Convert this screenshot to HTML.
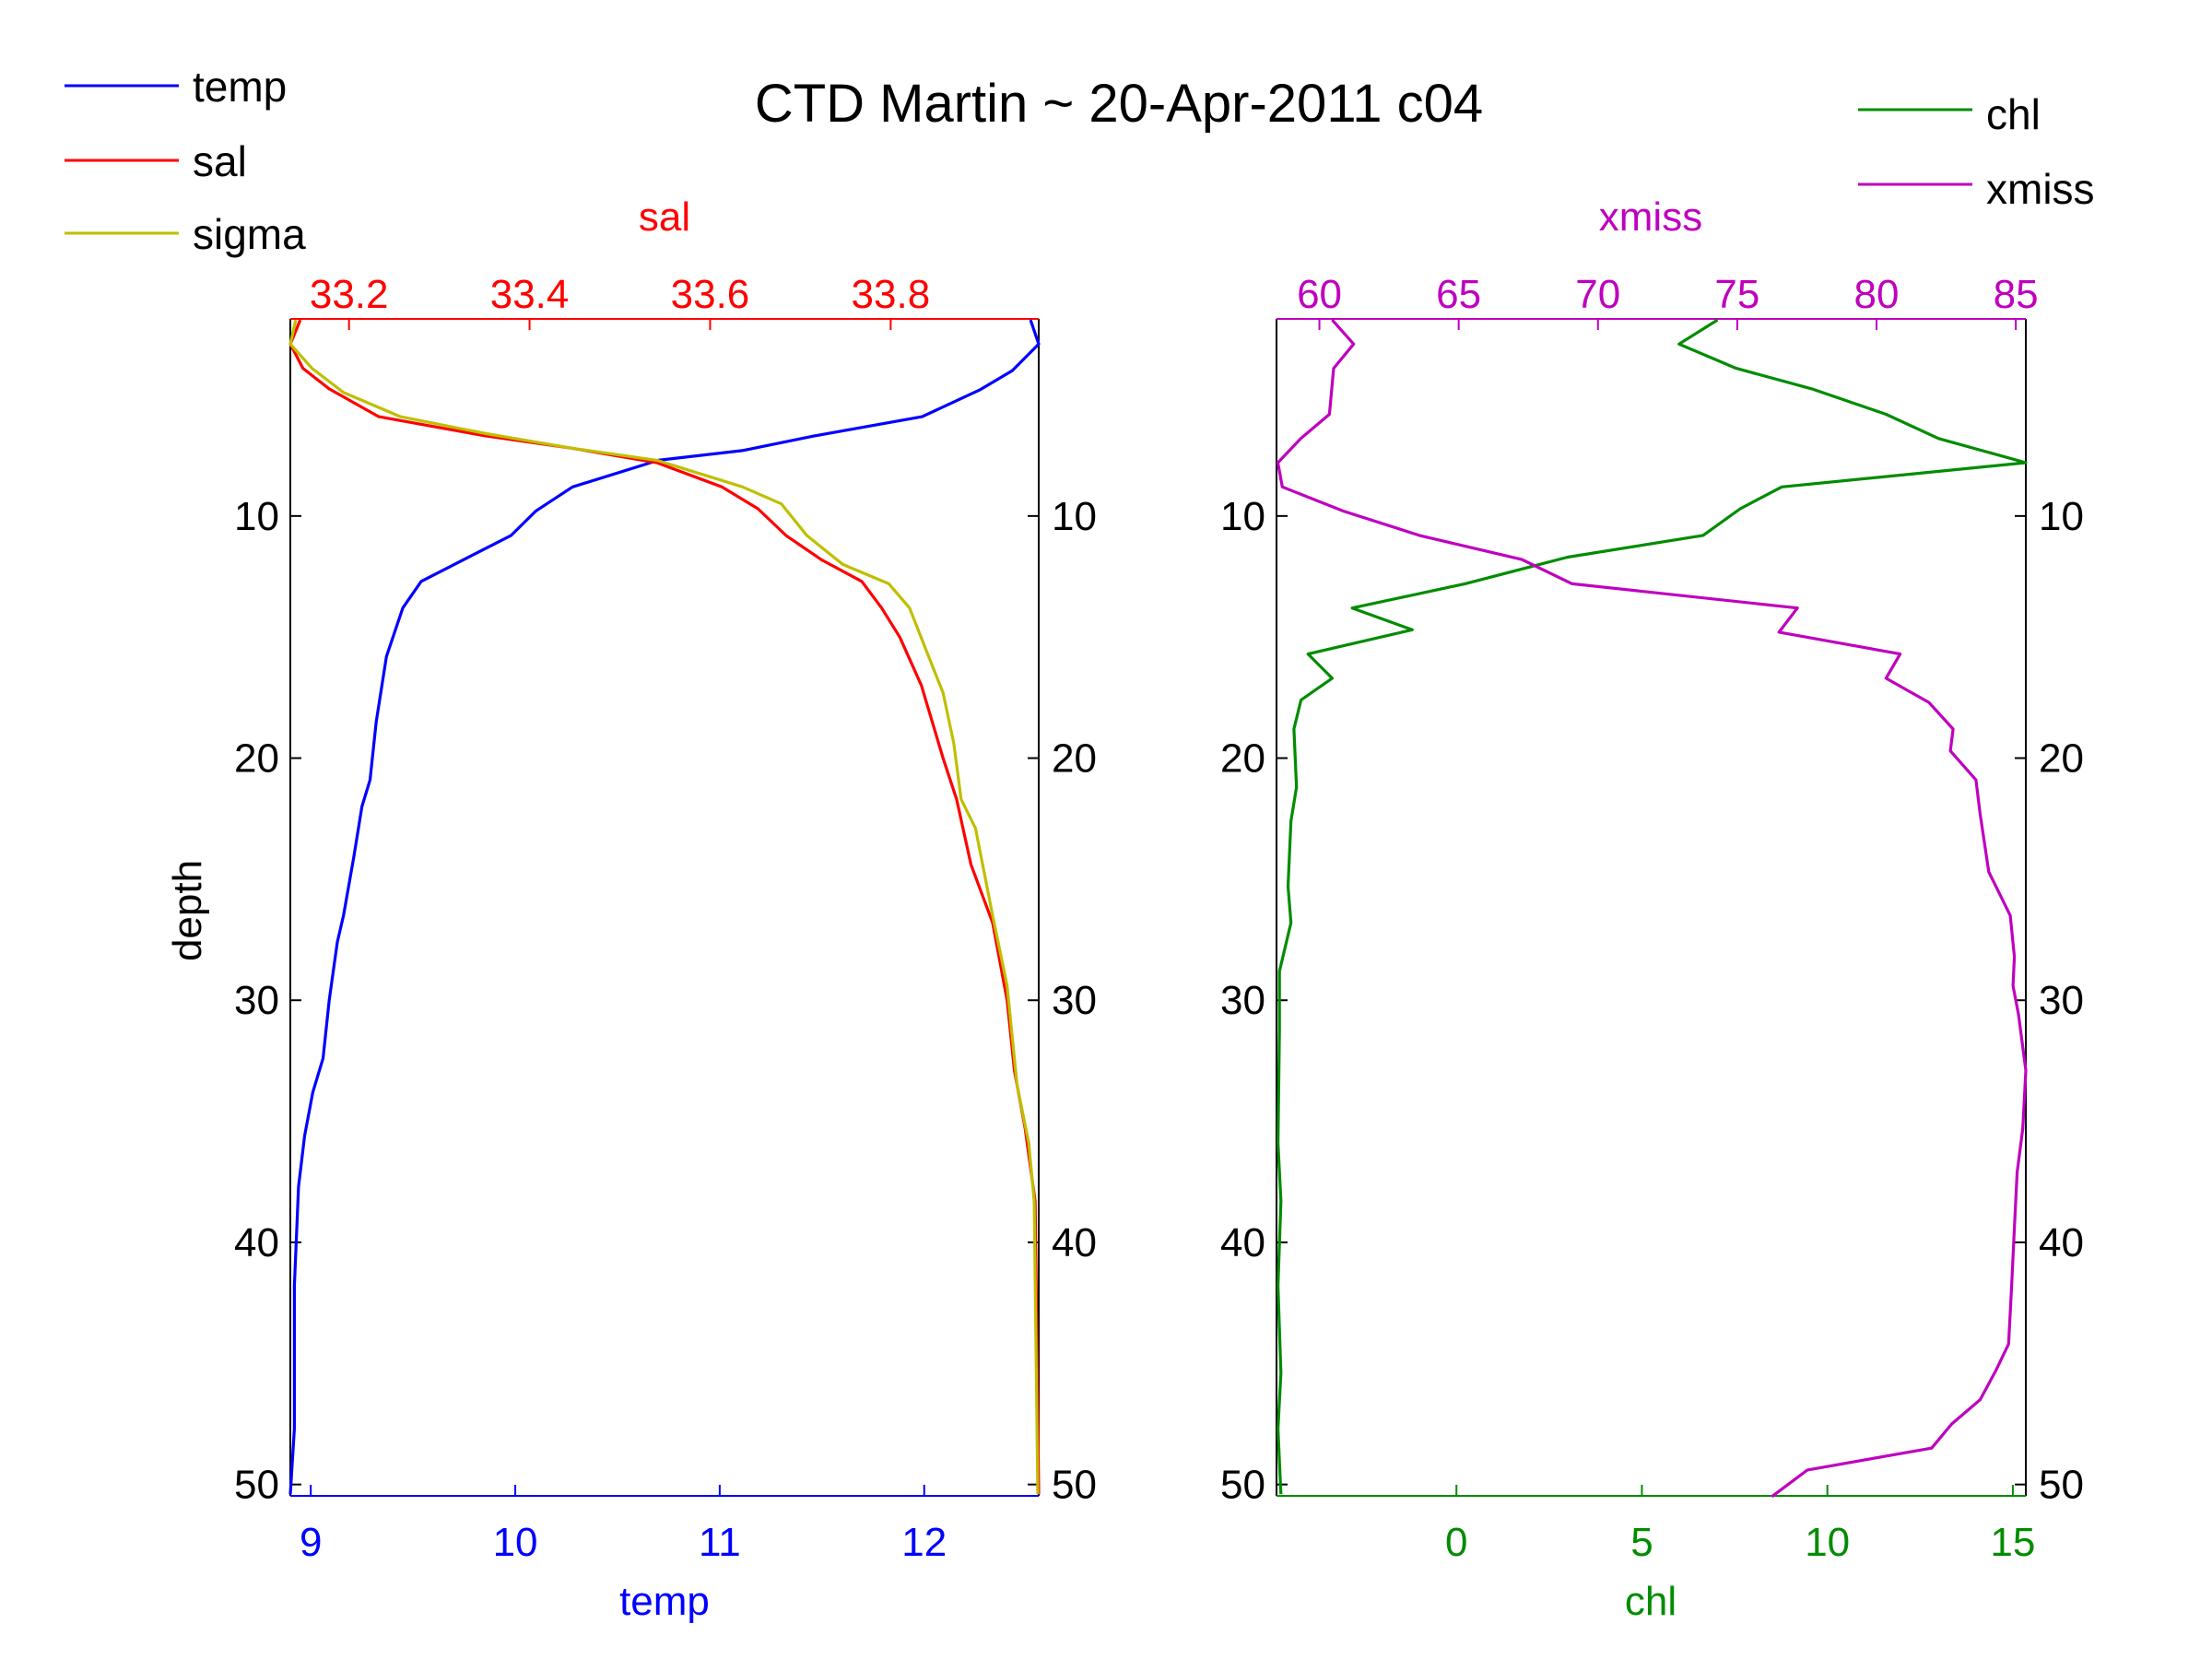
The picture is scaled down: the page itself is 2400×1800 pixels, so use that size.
<!DOCTYPE html>
<html><head><meta charset="utf-8"><style>
html,body{margin:0;padding:0;background:#fff;}
svg{display:block;font-family:"Liberation Sans",sans-serif;}
</style></head><body>
<svg id="chart" width="2400" height="1800" viewBox="0 0 2400 1800" xmlns="http://www.w3.org/2000/svg">
<rect width="2400" height="1800" fill="#fff"/>
<text x="1214" y="132" font-size="58" text-anchor="middle" fill="#000">CTD Martin ~ 20-Apr-2011 c04</text>
<g>
<line x1="70" y1="93" x2="194" y2="93" stroke="#0000ff" stroke-width="3"/>
<text x="209" y="110" font-size="46">temp</text>
<line x1="70" y1="174" x2="194" y2="174" stroke="#ff0000" stroke-width="3"/>
<text x="209" y="191" font-size="46">sal</text>
<line x1="70" y1="253" x2="194" y2="253" stroke="#bfbf00" stroke-width="3"/>
<text x="209" y="270" font-size="46">sigma</text>
</g>
<g>
<line x1="2016" y1="119" x2="2140" y2="119" stroke="#008c00" stroke-width="3"/>
<text x="2155" y="140" font-size="46">chl</text>
<line x1="2016" y1="200" x2="2140" y2="200" stroke="#bf00bf" stroke-width="3"/>
<text x="2155" y="221" font-size="46">xmiss</text>
</g>
<g id="plots"></g>
</svg>
<script>
// ---- data ----
const tempDepth = [1.9,2.9,4.0,4.8,5.9,6.7,7.3,7.7,8.8,9.8,10.8,12.7,13.8,15.8,18.5,20.9,22,24.1,26.5,27.6,30,32.4,33.8,35.6,37.7,41.8,47.7,50.4];
const tempVals = [12.52,12.56,12.43,12.27,11.99,11.46,11.11,10.70,10.28,10.10,9.98,9.54,9.45,9.37,9.32,9.29,9.25,9.21,9.16,9.13,9.09,9.06,9.01,8.97,8.94,8.92,8.92,8.90];
const salDepth = [1.9,2.9,3.9,4.75,5.9,6.7,7.2,7.8,8.8,9.7,10.8,11.8,12.7,13.8,15,17,20,21.7,24.4,26.8,30,32.9,35.3,38.3,50.4];
const salVals = [33.146,33.135,33.149,33.178,33.233,33.352,33.447,33.541,33.613,33.653,33.684,33.723,33.768,33.790,33.810,33.834,33.858,33.873,33.889,33.913,33.929,33.937,33.949,33.960,33.964];
const sigmaDepth = [1.9,2.9,3.9,4.9,5.9,6.6,7.2,7.7,8.8,9.5,10.8,12,12.8,13.8,15.8,17.3,19.4,21.7,22.9,26.5,29.4,33.5,35.9,38.3,50.4];
const sigmaVals = [33.141,33.135,33.159,33.194,33.257,33.352,33.447,33.541,33.636,33.679,33.707,33.747,33.798,33.821,33.842,33.858,33.870,33.878,33.894,33.913,33.929,33.940,33.953,33.959,33.963];
const chlDepth = [1.9,2.9,3.9,4.75,5.8,6.8,7.8,8.8,9.7,10.8,11.7,12.8,13.8,14.7,15.7,16.7,17.6,18.8,21.2,22.6,25.3,26.8,28.8,31.2,35.9,38.3,41.8,45.4,47.7,50.4];
const chlVals = [7.04,6.0,7.54,9.58,11.58,13.0,15.35,8.77,7.65,6.65,3.0,0.23,-2.81,-1.19,-4.0,-3.35,-4.19,-4.38,-4.31,-4.46,-4.54,-4.46,-4.77,-4.77,-4.81,-4.73,-4.81,-4.73,-4.81,-4.73];
const xmissDepth = [1.9,2.9,3.9,5.8,6.8,7.8,8.8,9.8,10.8,11.8,12.8,13.8,14.8,15.7,16.7,17.7,18.8,19.7,20.9,22.3,24.7,26.5,28.2,29.4,30.6,32.9,35.3,37.1,39.4,41.8,44.2,45.3,46.5,47.5,48.5,49.4,50.5];
const xmissVals = [60.46,61.23,60.51,60.36,59.33,58.51,58.67,60.87,63.59,67.27,69.07,77.16,76.5,80.85,80.34,81.88,82.75,82.65,83.57,83.72,84.03,84.8,84.95,84.9,85.1,85.36,85.25,85.05,84.95,84.85,84.74,84.28,83.72,82.7,81.98,77.52,76.24];
const depthTicks = [10,20,30,40,50];
const tempTicks = [9,10,11,12];
const salTicks = [33.2,33.4,33.6,33.8];
const salTickLabels = ["33.2","33.4","33.6","33.8"];
const chlTicks = [0,5,10,15];
const xmissTicks = [60,65,70,75,80,85];

// ---- layout ----
const NS = "http://www.w3.org/2000/svg";
const root = document.getElementById('plots');
const yTop = 346, yBot = 1623;
const dMin = 1.86, dMax = 50.47;
const yS = d => yTop + (d - dMin) / (dMax - dMin) * (yBot - yTop);
function lin(d0, d1, r0, r1){ return v => r0 + (v - d0) / (d1 - d0) * (r1 - r0); }
const L = {x0:315, x1:1127}, R = {x0:1385, x1:2198};
const tempS = lin(8.90, 12.56, L.x0, L.x1);
const salS = lin(33.135, 33.964, L.x0, L.x1);
const chlS = lin(-4.85, 15.35, R.x0, R.x1);
const xmissS = lin(58.46, 85.36, R.x0, R.x1);

function el(tag, attrs, parent){ const e = document.createElementNS(NS, tag); for (const k in attrs) e.setAttribute(k, attrs[k]); (parent||root).appendChild(e); return e; }
function txt(s, x, y, size, fill, anchor){ const t = el('text', {x:x, y:y, 'font-size':size, fill:fill, 'text-anchor':anchor||'middle'}); t.textContent = s; return t; }

function series(depths, vals, xs, color, name){
  const pts = depths.map((d,i) => xs(vals[i]).toFixed(1) + ',' + yS(d).toFixed(1)).join(' ');
  const p = el('polyline', {points:pts, fill:'none', stroke:color, 'stroke-width':3.2, 'stroke-linejoin':'round'});
  
  
}

function frame(B, topColor, botColor, prefix){
  const g = el('g', {});
  
  
  const l1 = el('line', {x1:B.x0, y1:yTop, x2:B.x0, y2:yBot, stroke:'#000', 'stroke-width':2}, g);
  
  
  const l2 = el('line', {x1:B.x1, y1:yTop, x2:B.x1, y2:yBot, stroke:'#000', 'stroke-width':2}, g);
  
  
  const l3 = el('line', {x1:B.x0, y1:yTop, x2:B.x1, y2:yTop, stroke:topColor, 'stroke-width':2}, g);
  
  
  const l4 = el('line', {x1:B.x0, y1:yBot, x2:B.x1, y2:yBot, stroke:botColor, 'stroke-width':2}, g);
  
  
  depthTicks.forEach(d => {
    const y = yS(d);
    const a = el('line', {x1:B.x0, y1:y, x2:B.x0+12, y2:y, stroke:'#000', 'stroke-width':2});
    
    
    const b = el('line', {x1:B.x1-12, y1:y, x2:B.x1, y2:y, stroke:'#000', 'stroke-width':2});
    
    
    const t1 = txt(String(d), B.x0-12, y+15, 44, '#000', 'end');
    
    
    const t2 = txt(String(d), B.x1+14, y+15, 44, '#000', 'start');
    
    
  });
}
function xTicks(ticks, labels, xs, color, atTop, prefix){
  ticks.forEach((v,i) => {
    const x = xs(v);
    const y0 = atTop ? yTop : yBot, y1 = atTop ? yTop+12 : yBot-12;
    const tk = el('line', {x1:x, y1:y0, x2:x, y2:y1, stroke:color, 'stroke-width':2});
    
    
    const t = txt(labels[i], x, atTop ? 334 : 1688, 44, color);
    
    
  });
}

frame(L, '#ff0000', '#0000ff', 'left');
frame(R, '#bf00bf', '#008c00', 'right');
xTicks(tempTicks, tempTicks.map(String), tempS, '#0000ff', false, 'temp-axis');
xTicks(salTicks, salTickLabels, salS, '#ff0000', true, 'sal-axis');
xTicks(chlTicks, chlTicks.map(String), chlS, '#008c00', false, 'chl-axis');
xTicks(xmissTicks, xmissTicks.map(String), xmissS, '#bf00bf', true, 'xmiss-axis');

series(tempDepth, tempVals, tempS, '#0000ff', 'temp-line');
series(salDepth, salVals, salS, '#ff0000', 'sal-line');
series(sigmaDepth, sigmaVals, salS, '#bfbf00', 'sigma-line');
series(chlDepth, chlVals, chlS, '#008c00', 'chl-line');
series(xmissDepth, xmissVals, xmissS, '#bf00bf', 'xmiss-line');

let lbl;
lbl = txt('sal', 721, 250, 44, '#ff0000');


lbl = txt('xmiss', 1791, 250, 44, '#bf00bf');


lbl = txt('temp', 721, 1752, 44, '#0000ff');


lbl = txt('chl', 1791, 1752, 44, '#008c00');


lbl = txt('depth', 0, 0, 44, '#000');
lbl.setAttribute('transform', 'translate(218,988) rotate(-90)');


</script>
</body></html>
